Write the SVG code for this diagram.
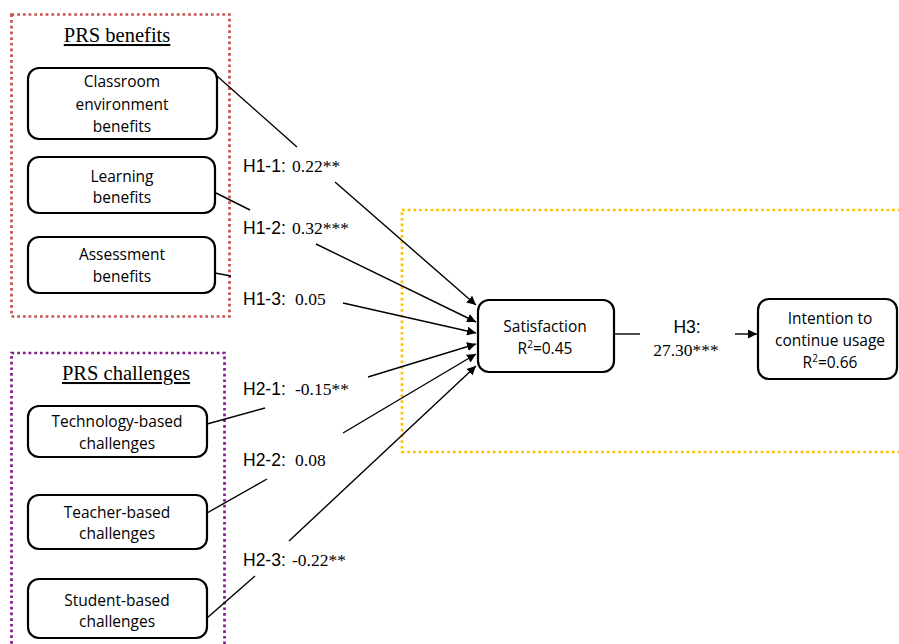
<svg xmlns="http://www.w3.org/2000/svg" width="899" height="644" viewBox="0 0 899 644">
<defs>
<marker id="arr" viewBox="0 0 10 10" refX="10" refY="5" markerWidth="9" markerHeight="9" markerUnits="userSpaceOnUse" orient="auto">
<path d="M0,0 L10,5 L0,10 z" fill="#000"/>
</marker>
<style>
.node rect{fill:#fff;stroke:#000;stroke-width:2.2}
.nt{font-family:"Open Sans","Liberation Sans",sans-serif;font-size:15.5px;text-anchor:middle;fill:#000}
.title{font-family:"Liberation Serif",serif;font-size:20.5px;text-anchor:middle;fill:#000;text-decoration:underline}
.hl{font-family:"Liberation Sans",sans-serif;font-size:17.5px;fill:#000}
.num{font-family:"Liberation Serif",serif;font-size:17.5px;fill:#000}
.con line,.con path{stroke:#000;stroke-width:1.4;fill:none}
.dot{fill:none;stroke-width:2.7;stroke-dasharray:2.7 3}
</style>
</defs>
<rect width="899" height="644" fill="#fff"/>

<g id="group-benefits">
<rect class="dot" x="11.5" y="14.5" width="218" height="302" stroke="#c8504e"/>
<text class="title" x="117" y="42">PRS benefits</text>
</g>
<g id="group-challenges">
<rect class="dot" x="11.5" y="353" width="213" height="300" stroke="#861a8c"/>
<text class="title" x="126" y="380">PRS challenges</text>
</g>
<g id="group-outcome">
<rect class="dot" x="402" y="210" width="510" height="242" stroke="#ffc000"/>
</g>

<g class="con" id="connectors">
<line x1="217" y1="76" x2="297" y2="147"/>
<line x1="335" y1="182" x2="476" y2="305" marker-end="url(#arr)"/>
<line x1="216" y1="193" x2="250" y2="210"/>
<line x1="316" y1="244" x2="476" y2="322" marker-end="url(#arr)"/>
<line x1="215" y1="273" x2="231" y2="276"/>
<line x1="343" y1="303" x2="476" y2="333" marker-end="url(#arr)"/>
<line x1="207" y1="424" x2="265" y2="408"/>
<line x1="368" y1="377" x2="476" y2="344" marker-end="url(#arr)"/>
<line x1="207" y1="513" x2="267" y2="479"/>
<line x1="343" y1="433" x2="476" y2="354" marker-end="url(#arr)"/>
<line x1="207" y1="618" x2="255" y2="576"/>
<line x1="289" y1="541" x2="476" y2="366" marker-end="url(#arr)"/>
<line x1="614" y1="334" x2="640" y2="334"/>
<line x1="735" y1="334" x2="757" y2="334" marker-end="url(#arr)"/>
</g>

<g id="labels">
<text x="243" y="172"><tspan class="hl">H1-1:</tspan><tspan class="num" x="292">0.22**</tspan></text>
<text x="243" y="234"><tspan class="hl">H1-2:</tspan><tspan class="num" x="292">0.32***</tspan></text>
<text x="243" y="305"><tspan class="hl">H1-3:</tspan><tspan class="num" x="295">0.05</tspan></text>
<text x="243" y="395"><tspan class="hl">H2-1:</tspan><tspan class="num" x="295">-0.15**</tspan></text>
<text x="243" y="466"><tspan class="hl">H2-2:</tspan><tspan class="num" x="295">0.08</tspan></text>
<text x="243" y="566"><tspan class="hl">H2-3:</tspan><tspan class="num" x="292">-0.22**</tspan></text>
<text class="hl" x="687" y="333" text-anchor="middle">H3:</text>
<text class="num" x="686" y="356" text-anchor="middle">27.30***</text>
</g>

<g id="n-classroom" class="node">
<rect x="28" y="68" width="189" height="71" rx="11"/>
<text class="nt" x="122" y="87">Classroom</text>
<text class="nt" x="122" y="110">environment</text>
<text class="nt" x="122" y="132">benefits</text>
</g>
<g id="n-learning" class="node">
<rect x="28" y="157" width="187" height="56" rx="11"/>
<text class="nt" x="122" y="182">Learning</text>
<text class="nt" x="122" y="203">benefits</text>
</g>
<g id="n-assessment" class="node">
<rect x="28" y="237" width="187" height="56" rx="11"/>
<text class="nt" x="122" y="260">Assessment</text>
<text class="nt" x="122" y="282">benefits</text>
</g>
<g id="n-technology" class="node">
<rect x="28" y="406" width="179" height="51" rx="11"/>
<text class="nt" x="117" y="427">Technology-based</text>
<text class="nt" x="117" y="449">challenges</text>
</g>
<g id="n-teacher" class="node">
<rect x="28" y="495" width="179" height="54" rx="11"/>
<text class="nt" x="117" y="518">Teacher-based</text>
<text class="nt" x="117" y="539">challenges</text>
</g>
<g id="n-student" class="node">
<rect x="28" y="579" width="179" height="59" rx="11"/>
<text class="nt" x="117" y="606">Student-based</text>
<text class="nt" x="117" y="627">challenges</text>
</g>
<g id="n-satisfaction" class="node">
<rect x="478" y="300" width="136" height="72" rx="11"/>
<text class="nt" x="545" y="332">Satisfaction</text>
<text class="nt" x="545" y="354">R<tspan font-size="10" dy="-6">2</tspan><tspan dy="6">=0.45</tspan></text>
</g>
<g id="n-intention" class="node">
<rect x="758" y="299" width="139" height="80" rx="11"/>
<text class="nt" x="830" y="324">Intention to</text>
<text class="nt" x="830" y="346">continue usage</text>
<text class="nt" x="830" y="368">R<tspan font-size="10" dy="-6">2</tspan><tspan dy="6">=0.66</tspan></text>
</g>
</svg>
